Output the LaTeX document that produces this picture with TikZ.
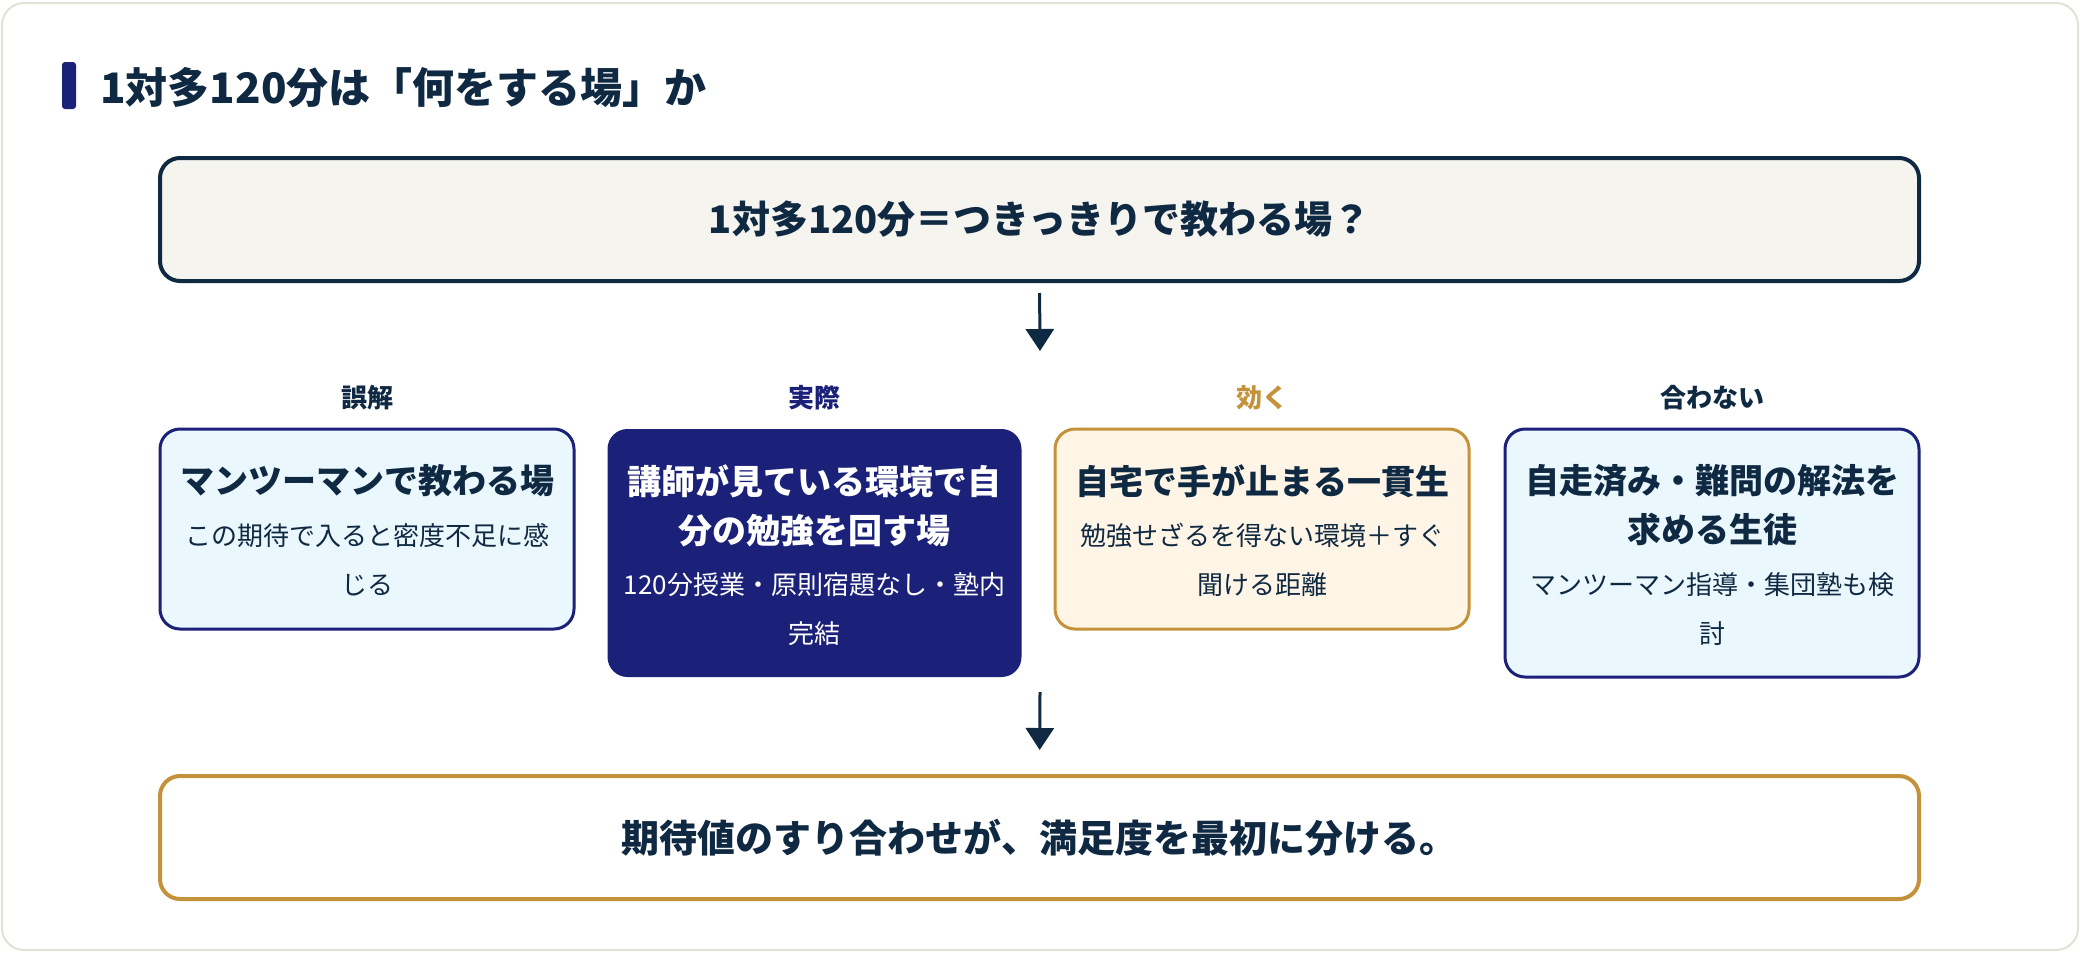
\documentclass[tikz,border=0pt]{standalone}
\usepackage{fontspec}
\setmainfont{Noto Sans CJK JP}
\usetikzlibrary{arrows.meta}
\definecolor{ink}{HTML}{0F2942}
\definecolor{navy}{HTML}{1B2178}
\definecolor{gold}{HTML}{C4923A}
\definecolor{cyanfill}{HTML}{EAF8FD}
\definecolor{creamfill}{HTML}{FEF5E6}
\definecolor{topfill}{HTML}{F5F4EF}
\definecolor{cardline}{HTML}{E3E1D6}
\begin{document}
\begin{tikzpicture}[x=0.5pt,y=-0.5pt,
  card/.style={draw=cardline, line width=1pt, fill=white, rounded corners=11pt},
  panel/.style={rectangle, rounded corners=10pt, inner sep=0pt, outer sep=0pt, minimum width=207pt},
  widebox/.style={rectangle, rounded corners=10pt, inner sep=0pt, outer sep=0pt, minimum width=879.5pt, minimum height=61.5pt},
  lbl/.style={font=\fontsize{13}{16}\selectfont\bfseries, inner sep=0pt},
  ttl/.style={font=\fontsize{17}{24.5}\selectfont\bfseries, align=center, inner sep=0pt},
  sub/.style={font=\fontsize{13}{24.5}\selectfont, align=center, inner sep=0pt},
  arr/.style={draw=ink, line width=1.5pt, -{Triangle[width=14pt,length=11pt]}}
]
\useasboundingbox (0,0) rectangle (2080,954);
% card
\path[card] (2,3) rectangle (2078,950);
% heading
\fill[navy, rounded corners=1.5pt] (62,62) rectangle (76,109);
\node[anchor=west, inner sep=0pt, text=ink, font=\fontsize{21}{25}\selectfont\bfseries] (head) at (100,88) {1対多120分は「何をする場」か};
% top box
\node[widebox, draw=ink, line width=2pt, fill=topfill, text=ink, font=\fontsize{19}{23}\selectfont\bfseries] (top) at (1039.5,219.5) {1対多120分＝つきっきりで教わる場？};
\coordinate (a1) at (1040,351);
\draw[arr, shorten <=6pt] (top.south) -- (a1);
% labels
\node[lbl, text=ink] (l1) at (367,398) {誤解};
\node[lbl, text=navy] (l2) at (814.5,398) {実際};
\node[lbl, text=gold] (l3) at (1262,398) {効く};
\node[lbl, text=ink] (l4) at (1712,398) {合わない};
% panels
\node[panel, minimum height=100pt, draw=navy, line width=1.5pt, fill=cyanfill] (b1) at (367,529) {};
\node[panel, minimum height=124pt, fill=navy] (b2) at (814.5,553) {};
\node[panel, minimum height=100pt, draw=gold, line width=1.5pt, fill=creamfill] (b3) at (1262,529) {};
\node[panel, minimum height=124pt, draw=navy, line width=1.5pt, fill=cyanfill] (b4) at (1712,553) {};
% panel texts
\node[ttl, text=ink] (t1) at (367,481) {マンツーマンで教わる場};
\node[sub, text=ink] (s1) at (367,559.5) {この期待で入ると密度不足に感\\じる};
\node[ttl, text=white] (t2) at (814.5,505.5) {講師が見ている環境で自\\分の勉強を回す場};
\node[sub, text=white] (s2) at (814.5,609) {120分授業・原則宿題なし・塾内\\完結};
\node[ttl, text=ink] (t3) at (1262,481) {自宅で手が止まる一貫生};
\node[sub, text=ink] (s3) at (1262,559.5) {勉強せざるを得ない環境＋すぐ\\聞ける距離};
\node[ttl, text=ink] (t4) at (1712,505.5) {自走済み・難問の解法を\\求める生徒};
\node[sub, text=ink] (s4) at (1712,609) {マンツーマン指導・集団塾も検\\討};
% bottom box
\node[widebox, draw=gold, line width=2pt, fill=white, text=ink, font=\fontsize{19}{23}\selectfont\bfseries] (bot) at (1039.5,837.5) {期待値のすり合わせが、満足度を最初に分ける。};
\coordinate (a2) at (1040,692);
\draw[arr, shorten >=13pt] (a2) -- (bot.north);
\end{tikzpicture}
\end{document}
